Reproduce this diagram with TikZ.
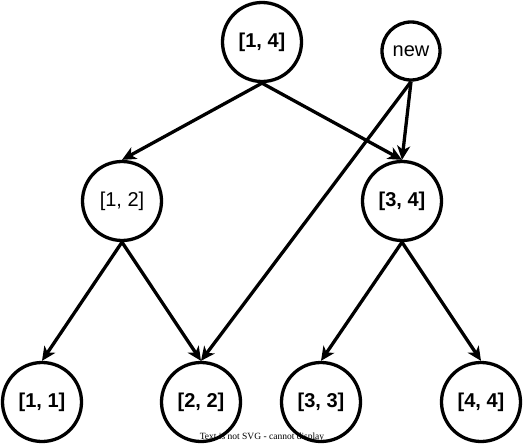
\documentclass[tikz,border=0pt]{standalone}
\usepackage{fontspec}
\setmainfont{Liberation Sans}
\newfontfamily\serifcap{Liberation Serif}
\usetikzlibrary{arrows.meta}
\begin{document}
\begin{tikzpicture}[x=1pt,y=-1pt,
  tnode/.style={circle,draw,line width=3.3pt,minimum size=79pt,inner sep=0pt,font=\fontsize{20}{23}\selectfont\bfseries},
  plain/.style={font=\fontsize{20}{23}\selectfont},
  edge/.style={line width=3.3pt,-{Stealth[length=14pt,width=13pt,inset=4pt]}}]
\useasboundingbox (0,0) rectangle (525,444);
\node[tnode] (n14) at (262,42) {[1, 4]};
\node[tnode,plain,minimum size=58pt] (new) at (411,51) {new};
\node[tnode,plain] (n12) at (122,201) {[1, 2]};
\node[tnode] (n34) at (402,201) {[3, 4]};
\node[tnode] (n11) at (42,402) {[1, 1]};
\node[tnode] (n22) at (201,402) {[2, 2]};
\node[tnode] (n33) at (321,402) {[3, 3]};
\node[tnode] (n44) at (481,402) {[4, 4]};
\draw[edge] (n14.south) -- (n12.north);
\draw[edge] (n14.south) -- (n34.north);
\draw[edge] (new.south) -- (n34.north);
\draw[edge] (new.south) -- (n22.north);
\draw[edge] (n12.south) -- (n11.north);
\draw[edge] (n12.south) -- (n22.north);
\draw[edge] (n34.south) -- (n33.north);
\draw[edge] (n34.south) -- (n44.north);
\node[font=\serifcap\fontsize{9.5}{11}\selectfont,inner sep=0pt] (caption) at (262,437) {Text is not SVG - cannot display};
\end{tikzpicture}
\end{document}
